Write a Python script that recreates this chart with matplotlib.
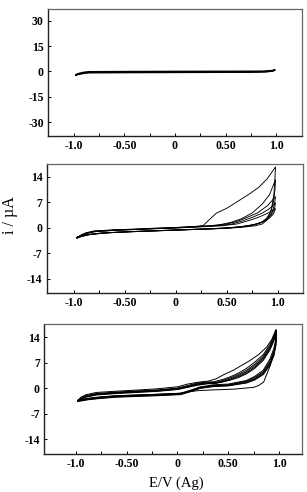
import matplotlib
matplotlib.use("Agg")
import matplotlib.pyplot as plt

# ---------------- data ----------------
X_TICKS = [-1.0, -0.75, -0.5, -0.25, 0.0, 0.25, 0.5, 0.75, 1.0]
X_TICK_LABELS = ["-1.0", "", "-0.50", "", "0", "", "0.50", "", "1.0"]
Y_TICKS_TOP = [30, 15, 0, -15, -30]
Y_TICKS_LOW = [14, 7, 0, -7, -14]
X_LABEL = "E/V (Ag)"
Y_LABEL = "i / \u00b5A"

# panel 1 : bare electrode, single flat loop
P1_LOOP = [(-0.98, -2.0), (-0.95, -1.2), (-0.9, -0.5), (-0.85, -0.2), (-0.5, -0.1),
           (0.0, 0.0), (0.5, 0.05), (0.85, 0.1), (0.93, 0.3), (0.97, 0.6), (0.99, 0.9),
           (0.97, 0.4), (0.9, -0.2), (0.5, -0.4), (0.0, -0.5), (-0.5, -0.6),
           (-0.85, -0.7), (-0.9, -1.0), (-0.95, -1.6), (-0.98, -2.0)]

# panel 2 : five successive cycles
P2_C1 = [(-0.97, -2.9), (-0.93, -2.0), (-0.88, -1.4), (-0.8, -0.9), (-0.6, -0.6), (-0.4, -0.4),
         (-0.2, -0.15), (0.0, 0.05), (0.2, 0.35), (0.27, 0.6), (0.33, 2.2), (0.40, 4.0),
         (0.5, 5.3), (0.63, 7.6), (0.72, 9.2), (0.82, 11.2), (0.9, 13.5), (0.98, 16.7),
         (0.975, 14.0), (0.965, 9.5), (0.94, 5.0), (0.9, 2.2), (0.85, 1.0), (0.78, 0.5),
         (0.65, 0.1), (0.5, -0.2), (0.3, -0.4), (0.1, -0.6), (-0.1, -0.8), (-0.3, -1.0),
         (-0.5, -1.2), (-0.7, -1.45), (-0.85, -1.9), (-0.92, -2.4), (-0.97, -2.9)]
P2_C2 = [(-0.97, -2.8), (-0.93, -2.1), (-0.88, -1.5), (-0.8, -1.0), (-0.6, -0.65), (-0.4, -0.45),
         (-0.2, -0.2), (0.0, 0.0), (0.2, 0.3), (0.35, 0.55), (0.45, 0.9), (0.55, 1.5),
         (0.65, 2.5), (0.75, 4.0), (0.85, 6.5), (0.92, 9.0), (0.98, 13.2),
         (0.975, 10.5), (0.96, 7.0), (0.93, 4.2), (0.89, 2.5), (0.84, 1.4), (0.76, 0.7),
         (0.65, 0.2), (0.5, -0.15), (0.3, -0.4), (0.1, -0.6), (-0.1, -0.8), (-0.3, -1.0),
         (-0.5, -1.2), (-0.7, -1.5), (-0.85, -1.95), (-0.92, -2.4), (-0.97, -2.8)]
P2_C3 = [(-0.97, -2.7), (-0.93, -2.1), (-0.88, -1.55), (-0.8, -1.05), (-0.6, -0.7), (-0.4, -0.5),
         (-0.2, -0.25), (0.0, -0.05), (0.2, 0.25), (0.4, 0.6), (0.5, 1.0), (0.6, 1.7),
         (0.7, 2.8), (0.8, 4.0), (0.9, 6.0), (0.98, 8.5),
         (0.97, 6.5), (0.95, 4.5), (0.92, 3.0), (0.87, 1.8), (0.8, 1.0), (0.7, 0.4),
         (0.55, 0.0), (0.3, -0.35), (0.1, -0.55), (-0.1, -0.75), (-0.3, -0.95),
         (-0.5, -1.15), (-0.7, -1.45), (-0.85, -1.9), (-0.92, -2.3), (-0.97, -2.7)]
P2_C4 = [(-0.97, -2.7), (-0.93, -2.15), (-0.88, -1.6), (-0.8, -1.1), (-0.6, -0.72), (-0.4, -0.5),
         (-0.2, -0.28), (0.0, -0.08), (0.2, 0.2), (0.45, 0.6), (0.55, 1.0), (0.65, 1.8),
         (0.75, 2.8), (0.85, 4.0), (0.92, 5.2), (0.98, 6.8),
         (0.97, 5.2), (0.94, 3.6), (0.9, 2.4), (0.84, 1.4), (0.75, 0.7), (0.6, 0.1),
         (0.4, -0.25), (0.2, -0.45), (0.0, -0.65), (-0.2, -0.85), (-0.4, -1.05),
         (-0.6, -1.3), (-0.75, -1.55), (-0.87, -1.95), (-0.93, -2.35), (-0.97, -2.7)]
P2_C5 = [(-0.97, -2.65), (-0.93, -2.2), (-0.88, -1.65), (-0.8, -1.15), (-0.6, -0.75), (-0.4, -0.52),
         (-0.2, -0.3), (0.0, -0.1), (0.2, 0.15), (0.45, 0.5), (0.6, 1.0), (0.7, 1.8),
         (0.8, 2.7), (0.9, 3.9), (0.98, 5.2),
         (0.96, 3.8), (0.92, 2.6), (0.86, 1.6), (0.78, 0.9), (0.65, 0.3), (0.45, -0.2),
         (0.2, -0.45), (0.0, -0.65), (-0.2, -0.85), (-0.4, -1.05), (-0.6, -1.3),
         (-0.75, -1.55), (-0.87, -1.95), (-0.93, -2.35), (-0.97, -2.65)]
P2_CYCLES = [P2_C1, P2_C2, P2_C3, P2_C4, P2_C5]

# panel 3 : first cycle plus a dense set of later cycles
P3_C1 = [(-0.98, -3.2), (-0.95, -2.4), (-0.9, -1.7), (-0.8, -1.1), (-0.6, -0.75), (-0.4, -0.45),
         (-0.2, -0.1), (0.0, 0.45), (0.1, 1.2), (0.2, 1.7), (0.3, 2.0), (0.385, 2.7),
         (0.45, 3.7), (0.55, 5.0), (0.71, 7.6), (0.8, 9.3), (0.88, 11.4), (0.93, 13.5),
         (0.97, 16.2),
         (0.965, 12.4), (0.95, 9.5), (0.91, 6.0), (0.85, 1.8), (0.8, 0.8), (0.75, 0.3),
         (0.55, -0.2), (0.35, -0.4), (0.2, -0.6), (0.12, -0.9), (0.06, -1.2), (0.0, -1.4),
         (-0.2, -1.6), (-0.4, -1.8), (-0.6, -2.0), (-0.76, -2.4), (-0.88, -2.8),
         (-0.94, -3.1), (-0.98, -3.2)]
P3_C2 = [(-0.98, -3.3), (-0.95, -2.6), (-0.9, -2.0), (-0.8, -1.4), (-0.6, -1.0), (-0.4, -0.7),
         (-0.2, -0.4), (0.0, 0.1), (0.1, 0.8), (0.2, 1.5), (0.3, 1.8), (0.35, 1.8),
         (0.45, 2.5), (0.52, 3.2), (0.6, 4.2), (0.68, 5.5), (0.76, 7.2), (0.845, 9.3),
         (0.91, 12.0), (0.95, 14.5), (0.975, 16.0),
         (0.97, 13.5), (0.95, 11.0), (0.91, 8.0), (0.845, 5.0), (0.76, 3.3), (0.68, 2.2),
         (0.5, 1.2), (0.35, 1.0), (0.22, 0.4), (0.15, -0.3), (0.08, -0.9), (0.03, -1.3),
         (-0.2, -1.6), (-0.4, -1.8), (-0.6, -2.0), (-0.76, -2.3), (-0.88, -2.7),
         (-0.94, -3.0), (-0.98, -3.3)]
P3_C3 = [(-0.98, -3.4), (-0.95, -2.7), (-0.9, -2.1), (-0.8, -1.5), (-0.6, -1.1), (-0.4, -0.8),
         (-0.2, -0.5), (0.0, 0.0), (0.1, 0.6), (0.2, 1.3), (0.3, 1.6), (0.38, 1.7),
         (0.45, 2.2), (0.52, 2.9), (0.6, 3.8), (0.68, 5.0), (0.76, 6.6), (0.845, 8.8),
         (0.91, 11.5), (0.95, 14.0), (0.975, 15.8),
         (0.97, 13.0), (0.95, 10.2), (0.91, 7.4), (0.845, 4.6), (0.76, 3.0), (0.68, 2.0),
         (0.5, 1.0), (0.35, 0.8), (0.22, 0.3), (0.15, -0.4), (0.08, -1.0), (0.03, -1.4),
         (-0.2, -1.7), (-0.4, -1.9), (-0.6, -2.1), (-0.76, -2.45), (-0.88, -2.8),
         (-0.94, -3.1), (-0.98, -3.4)]
P3_C4 = [(-0.98, -3.4), (-0.95, -2.8), (-0.9, -2.2), (-0.8, -1.6), (-0.6, -1.2), (-0.4, -0.9),
         (-0.2, -0.6), (0.0, -0.1), (0.1, 0.5), (0.2, 1.2), (0.3, 1.5), (0.38, 1.6),
         (0.45, 2.0), (0.52, 2.6), (0.6, 3.5), (0.68, 4.6), (0.76, 6.2), (0.845, 8.4),
         (0.91, 11.2), (0.95, 13.8), (0.975, 15.6),
         (0.97, 12.6), (0.95, 9.8), (0.91, 7.0), (0.845, 4.3), (0.76, 2.7), (0.68, 1.8),
         (0.5, 0.9), (0.35, 0.7), (0.22, 0.2), (0.15, -0.5), (0.08, -1.1), (0.03, -1.5),
         (-0.2, -1.8), (-0.4, -2.0), (-0.6, -2.2), (-0.76, -2.55), (-0.88, -2.9),
         (-0.94, -3.2), (-0.98, -3.4)]
P3_C5 = [(-0.98, -3.5), (-0.95, -2.9), (-0.9, -2.3), (-0.8, -1.7), (-0.6, -1.3), (-0.4, -1.0),
         (-0.2, -0.7), (0.0, -0.2), (0.1, 0.4), (0.2, 1.0), (0.3, 1.4), (0.38, 1.5),
         (0.45, 1.9), (0.52, 2.4), (0.6, 3.2), (0.68, 4.3), (0.76, 5.8), (0.845, 8.0),
         (0.91, 10.8), (0.95, 13.4), (0.975, 15.4),
         (0.97, 12.2), (0.95, 9.4), (0.91, 6.6), (0.845, 4.0), (0.76, 2.5), (0.68, 1.6),
         (0.5, 0.8), (0.35, 0.6), (0.22, 0.1), (0.15, -0.6), (0.08, -1.2), (0.03, -1.6),
         (-0.2, -1.9), (-0.4, -2.1), (-0.6, -2.3), (-0.76, -2.65), (-0.88, -3.0),
         (-0.94, -3.3), (-0.98, -3.5)]
P3_C6 = [(-0.98, -3.5), (-0.95, -3.0), (-0.9, -2.4), (-0.8, -1.8), (-0.6, -1.4), (-0.4, -1.1),
         (-0.2, -0.8), (0.0, -0.3), (0.1, 0.3), (0.2, 0.9), (0.3, 1.3), (0.38, 1.4),
         (0.45, 1.8), (0.52, 2.3), (0.6, 3.0), (0.68, 4.0), (0.76, 5.5), (0.845, 7.7),
         (0.91, 10.5), (0.95, 13.0), (0.975, 15.2),
         (0.97, 11.8), (0.95, 9.0), (0.91, 6.3), (0.845, 3.8), (0.76, 2.3), (0.68, 1.5),
         (0.5, 0.7), (0.35, 0.5), (0.22, 0.0), (0.15, -0.7), (0.08, -1.3), (0.03, -1.7),
         (-0.2, -2.0), (-0.4, -2.2), (-0.6, -2.4), (-0.76, -2.75), (-0.88, -3.1),
         (-0.94, -3.4), (-0.98, -3.5)]
P3_CYCLES = [P3_C1, P3_C2, P3_C3, P3_C4, P3_C5, P3_C6]

# ---------------- figure ----------------
plt.rcParams["font.family"] = ["Liberation Serif", "DejaVu Serif"]
fig = plt.figure(figsize=(3.07, 4.92), dpi=100)

W, H = 307.0, 492.0
def box(l, r, t, b):
    return [l / W, 1 - b / H, (r - l) / W, (b - t) / H]

panels = [
    dict(rect=box(48, 302, 9, 136), xlim=(-1.257, 1.257), ylim=(-38.3, 37.1),
         yt=Y_TICKS_TOP, cycles=[P1_LOOP], lw=1.2),
    dict(rect=box(46.7, 303, 164, 292.7), xlim=(-1.268, 1.25), ylim=(-17.9, 17.5),
         yt=Y_TICKS_LOW, cycles=P2_CYCLES, lw=0.65),
    dict(rect=box(44, 302, 324, 454), xlim=(-1.315, 1.227), ylim=(-18.0, 17.7),
         yt=Y_TICKS_LOW, cycles=P3_CYCLES, lw=0.7),
]

for p in panels:
    ax = fig.add_axes(p["rect"])
    for cyc in p["cycles"]:
        ax.plot([c[0] for c in cyc], [c[1] for c in cyc], color="black",
                lw=p["lw"], solid_joinstyle="round")
    ax.set_xlim(*p["xlim"])
    ax.set_ylim(*p["ylim"])
    ax.set_xticks(X_TICKS)
    ax.set_xticklabels(X_TICK_LABELS)
    ax.set_yticks(p["yt"])
    ax.set_yticklabels([str(v) for v in p["yt"]])
    ax.tick_params(direction="in", length=2.5, width=0.7, labelsize=8.5, pad=3,
                   colors="black")
    for lab in ax.get_xticklabels() + ax.get_yticklabels():
        lab.set_fontweight("bold")
    for side in ("left", "bottom"):
        ax.spines[side].set_linewidth(1.0)
        ax.spines[side].set_color("#222222")
    for side in ("top", "right"):
        ax.spines[side].set_linewidth(0.9)
        ax.spines[side].set_color("#666666")

fig.text(10 / W, 1 - 215 / H, Y_LABEL, rotation=90, ha="center", va="center",
         fontsize=11.5)
fig.text(176 / W, 1 - 490 / H, X_LABEL, ha="center", va="bottom", fontsize=10.5)

fig.savefig("out.png", dpi=100)
